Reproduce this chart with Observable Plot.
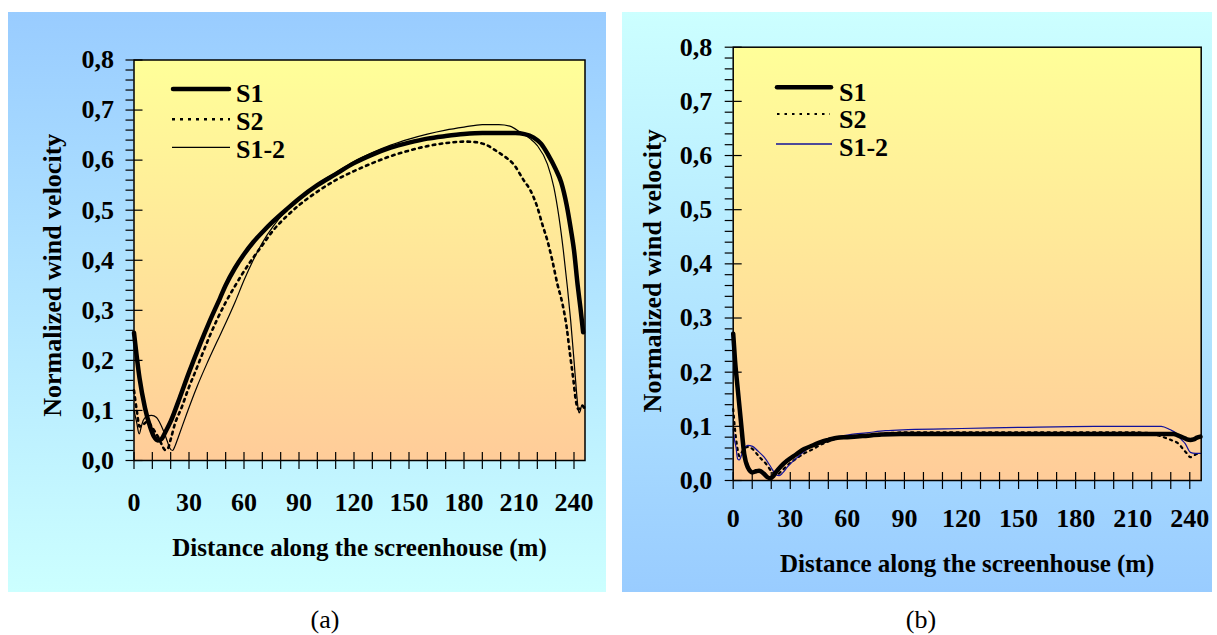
<!DOCTYPE html>
<html><head><meta charset="utf-8">
<script src="https://cdn.jsdelivr.net/npm/d3@7"></script>
<script src="https://cdn.jsdelivr.net/npm/@observablehq/plot@0.6"></script>
<style>
html,body{margin:0;padding:0;background:#fff;}
#page{position:relative;width:1217px;height:635px;overflow:hidden;font-family:"Liberation Serif",serif;}
.abs{position:absolute;}
#bgA{left:8px;top:12px;width:598px;height:580px;background:linear-gradient(to bottom,#99ccff,#ccffff);}
#bgB{left:622px;top:12px;width:590px;height:580px;background:linear-gradient(to bottom,#ccffff,#99ccff);}
#plotA{left:0;top:0;}
#plotB{left:610px;top:0;}
.cap{font-size:26px;transform:translate(-50%,-50%);top:620px;font-family:"Liberation Serif",serif;}
</style></head>
<body>
<div id="page">
  <div id="bgA" class="abs"></div>
  <div id="bgB" class="abs"></div>
  <div id="plotA" class="abs"></div>
  <div id="plotB" class="abs"></div>
  <svg id="legA" class="abs" style="left:160px;top:70px" width="150" height="100"></svg>
  <svg id="legB" class="abs" style="left:760px;top:70px" width="150" height="100"></svg>
  <div class="abs cap" style="left:325px">(a)</div>
  <div class="abs cap" style="left:921px">(b)</div>
</div>
<script>
// ---------- data ----------
const xDomain = [0, 246];
const yDomain = [0, 0.8];
const xTicksLabeled = [0, 30, 60, 90, 120, 150, 180, 210, 240];
const xTicksAll = [0,10,20,30,40,50,60,70,80,90,100,110,120,130,140,150,160,170,180,190,200,210,220,230,240];
const yTicksMajor = [0, 0.1, 0.2, 0.3, 0.4, 0.5, 0.6, 0.7, 0.8];
const yTicksMinor = d3.range(0, 0.8001, 0.02);
const seriesNames = ["S1", "S2", "S1-2"];
const xTitle = "Distance along the screenhouse (m)";
const yTitle = "Normalized wind velocity";

// panel (a)
const a_S1 = [[0,0.255],[3,0.165],[6,0.105],[9,0.065],[11,0.047],[13,0.040],[15,0.043],[17,0.056],[20,0.078],[25,0.126],[30,0.176],[36,0.232],[41,0.276],[47,0.325],[50,0.350],[55,0.384],[60,0.412],[65,0.436],[70,0.456],[76,0.478],[83,0.501],[90,0.523],[100,0.550],[110,0.572],[120,0.594],[130,0.611],[140,0.625],[150,0.635],[160,0.643],[170,0.648],[180,0.652],[190,0.654],[200,0.654],[208,0.654],[213,0.652],[218,0.645],[222,0.633],[226,0.610],[230,0.582],[233,0.556],[236,0.510],[238,0.468],[240,0.420],[242,0.350],[243.5,0.305],[245,0.256]];
const a_S2 = [[0,0.14],[1.5,0.10],[3,0.068],[5,0.072],[7.5,0.078],[9.5,0.068],[11,0.06],[13,0.048],[15,0.033],[17,0.021],[18.5,0.024],[20,0.042],[22.3,0.073],[26,0.106],[29.6,0.143],[33.3,0.176],[37,0.21],[41,0.246],[45,0.279],[50,0.316],[55,0.348],[60,0.378],[65,0.405],[70,0.43],[76,0.46],[83,0.487],[90,0.51],[100,0.537],[110,0.56],[120,0.578],[130,0.594],[140,0.608],[150,0.619],[160,0.628],[170,0.634],[180,0.637],[186,0.636],[191,0.632],[199,0.615],[203,0.605],[207,0.592],[212.7,0.559],[216.3,0.539],[220,0.506],[222.7,0.472],[225.5,0.439],[228.2,0.399],[230.9,0.353],[233.7,0.313],[236,0.266],[237.8,0.213],[239.7,0.16],[241,0.12],[242.5,0.102],[244.5,0.11],[245.5,0.105]];
const a_S12 = [[0,0.10],[1.5,0.075],[2.8,0.053],[4,0.068],[5,0.08],[7,0.088],[9.6,0.09],[12.3,0.086],[14,0.076],[16,0.06],[18,0.04],[19.5,0.025],[21,0.02],[22.5,0.03],[24.2,0.047],[28.7,0.093],[34.2,0.146],[39.7,0.193],[45.1,0.236],[50.6,0.279],[55.1,0.316],[60,0.36],[65,0.40],[70,0.435],[76,0.468],[82,0.495],[88,0.515],[95,0.537],[100,0.552],[110,0.575],[120,0.597],[130,0.615],[140,0.63],[150,0.642],[160,0.652],[170,0.66],[180,0.666],[190,0.671],[199,0.671],[205,0.668],[211,0.655],[216,0.643],[220,0.629],[225.5,0.592],[229,0.546],[231.8,0.486],[234.2,0.419],[236.4,0.346],[238.2,0.279],[240,0.2],[241.3,0.14],[242.4,0.1],[242.8,0.095],[243.5,0.1],[244.2,0.11],[246,0.107]];

// panel (b)
const b_S1 = [[0,0.271],[1,0.22],[2.3,0.172],[4,0.111],[5.8,0.049],[7.6,0.025],[10.2,0.015],[12,0.017],[13.6,0.018],[16.3,0.012],[18,0.006],[19.4,0.004],[21,0.008],[22.4,0.015],[25,0.026],[28.5,0.037],[33,0.048],[37.3,0.058],[42,0.065],[46,0.071],[50,0.075],[54.8,0.079],[60,0.08],[68,0.082],[78,0.085],[88,0.086],[100,0.086],[120,0.086],[150,0.086],[180,0.086],[210,0.086],[225,0.086],[231.5,0.086],[234,0.083],[236.7,0.079],[238.5,0.076],[240.3,0.075],[242,0.076],[243.8,0.079],[245.6,0.081]];
const b_S2 = [[0,0.132],[0.8,0.1],[1.4,0.08],[2.3,0.058],[3.2,0.045],[4.5,0.052],[6,0.06],[8,0.062],[10.2,0.058],[13.6,0.044],[17.2,0.031],[20.7,0.015],[23.3,0.011],[25,0.016],[28.5,0.028],[33,0.04],[37.3,0.05],[42,0.058],[46,0.066],[50,0.072],[54.8,0.078],[60,0.081],[70,0.084],[80,0.087],[90,0.089],[120,0.089],[150,0.089],[180,0.089],[210,0.089],[220,0.087],[223.6,0.083],[227,0.079],[230.7,0.074],[234.1,0.068],[236.7,0.057],[238.5,0.05],[240.3,0.043],[242,0.046],[243.8,0.049],[245.6,0.05]];
const b_S12 = [[0,0.095],[0.7,0.075],[1.5,0.061],[2.3,0.04],[3.2,0.038],[4,0.043],[4.9,0.052],[6,0.06],[7.6,0.065],[10.2,0.063],[12.8,0.055],[16.3,0.043],[19.8,0.025],[22.4,0.011],[24.2,0.009],[26,0.014],[28.5,0.025],[33.8,0.043],[39,0.058],[46,0.071],[54.8,0.081],[62,0.085],[70,0.088],[80,0.092],[92,0.094],[120,0.096],[150,0.098],[190,0.1],[225,0.1],[229.5,0.094],[233.3,0.086],[235.5,0.076],[237.6,0.068],[240.3,0.052],[242.9,0.05],[245.6,0.05]];

// ---------- drawing ----------
const fmt = d => d3.format(".1f")(d).replace(".", ",");
const blank = () => "";

function makePanel(cfg) {
  const svg = Plot.plot({
    width: cfg.W, height: cfg.H,
    marginLeft: cfg.mL, marginRight: cfg.mR, marginTop: cfg.mT, marginBottom: cfg.mB,
    x: {domain: xDomain},
    y: {domain: yDomain},
    style: {background: "transparent", overflow: "visible", fontFamily: "'Liberation Serif', serif", fontWeight: "bold", fontSize: "26px", color: "black"},
    marks: [
      Plot.frame({fill: `url(#${cfg.gid})`}),
      Plot.line(cfg.s2, {x: d => d[0], y: d => d[1], stroke: "black", strokeWidth: cfg.s2w, strokeDasharray: cfg.s2dash, curve: "monotone-x"}),
      Plot.line(cfg.s12, {x: d => d[0], y: d => d[1], stroke: cfg.c12, strokeWidth: 1.2, curve: "monotone-x"}),
      Plot.line(cfg.s1, {x: d => d[0], y: d => d[1], stroke: "black", strokeWidth: 4.5, curve: "monotone-x"}),
      Plot.frame({stroke: "black", strokeWidth: 1.5}),
      Plot.axisY(yTicksMinor, {tickSize: 8, tickFormat: blank, label: null, stroke: "black", strokeWidth: 1.2}),
      Plot.axisY(yTicksMajor, {tickSize: -9, tickFormat: blank, label: null, stroke: "black", strokeWidth: 1.2}),
      Plot.axisY(yTicksMajor, {tickSize: 0, tickPadding: cfg.padY, tickFormat: fmt, label: null, fill: "black"}),
      Plot.axisX(xTicksAll, {tickSize: 9, tickFormat: blank, label: null, stroke: "black", strokeWidth: 1.2}),
      Plot.axisX(xTicksAll, {tickSize: -8, tickFormat: blank, label: null, stroke: "black", strokeWidth: 1.2}),
      Plot.axisX(xTicksLabeled, {tickSize: 0, tickPadding: cfg.padX, tickFormat: d => `${d}`, label: null, fill: "black"}),
      Plot.text([xTitle], {text: d => d, frameAnchor: "bottom", dy: cfg.xTitleDy, lineAnchor: "middle", textAnchor: "middle", fontSize: 25, fill: "black"}),
      Plot.text([yTitle], {text: d => d, frameAnchor: "left", rotate: -90, dx: -81, dy: cfg.yTitleDy, lineAnchor: "middle", textAnchor: "middle", fontSize: 26, fill: "black"})
    ]
  });
  const defs = d3.select(svg).insert("defs", ":first-child");
  const g = defs.append("linearGradient").attr("id", cfg.gid).attr("x1", 0).attr("y1", 0).attr("x2", 0).attr("y2", 1);
  g.append("stop").attr("offset", "0%").attr("stop-color", "#ffff99");
  g.append("stop").attr("offset", "100%").attr("stop-color", "#ffcc99");
  return svg;
}

document.getElementById("plotA").appendChild(makePanel({
  W: 610, H: 600, mL: 133.5, mR: 25.5, mT: 59.5, mB: 140,
  s1: a_S1, s2: a_S2, s12: a_S12, c12: "black", s2w: 2.6, s2dash: "2.6,4.4",
  gid: "gradA", padY: 20, padX: 32, xTitleDy: 87, yTitleDy: 15
}));
document.getElementById("plotB").appendChild(makePanel({
  W: 607, H: 600, mL: 122.7, mR: 16.3, mT: 46.7, mB: 120,
  s1: b_S1, s2: b_S2, s12: b_S12, c12: "#12129a", s2w: 2.2, s2dash: "2.2,4.3",
  gid: "gradB", padY: 21, padX: 28, xTitleDy: 83, yTitleDy: 7
}));

// legends
function legend(id, rows) {
  const s = d3.select(id);
  rows.forEach((r, i) => {
    s.append("line").attr("x1", r.x1).attr("x2", r.x2).attr("y1", r.ly).attr("y2", r.ly)
      .attr("stroke", r.color).attr("stroke-width", r.w)
      .attr("stroke-dasharray", r.dash || null).attr("stroke-linecap", r.cap || "butt");
    s.append("text").attr("x", r.tx).attr("y", r.ty).text(seriesNames[i])
      .attr("font-family", "'Liberation Serif', serif").attr("font-weight", "bold").attr("font-size", 26).attr("fill", "black");
  });
}
legend("#legA", [
  {x1: 13, x2: 69, ly: 19, w: 4.5, color: "black", cap: "round", tx: 76, ty: 31.5},
  {x1: 12, x2: 70, ly: 49.3, w: 2.5, color: "black", dash: "3,5", tx: 76, ty: 59.8},
  {x1: 12, x2: 70, ly: 77.3, w: 1.2, color: "black", tx: 76, ty: 88.1}
]);
legend("#legB", [
  {x1: 17, x2: 71, ly: 17.3, w: 4.5, color: "black", cap: "round", tx: 79, ty: 30.5},
  {x1: 17, x2: 70, ly: 44, w: 2.2, color: "black", dash: "2.5,5", tx: 79, ty: 58.3},
  {x1: 16, x2: 72, ly: 74, w: 1.3, color: "#12129a", tx: 79, ty: 86.1}
]);
</script>
</body></html>
